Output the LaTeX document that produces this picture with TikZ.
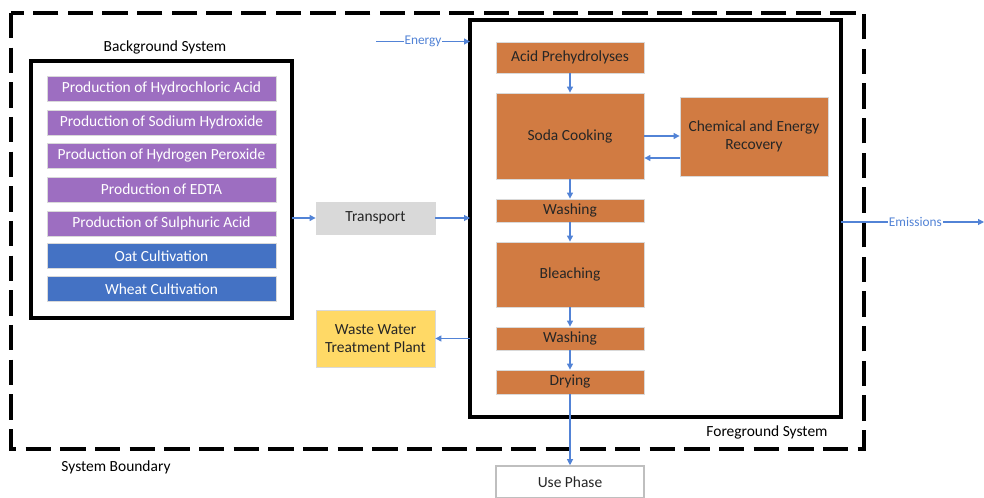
\documentclass[tikz,border=0pt]{standalone}
\usepackage{fontspec}
\setmainfont{Carlito}
\usetikzlibrary{arrows.meta,positioning}

\definecolor{chempurple}{RGB}{157,110,193}
\definecolor{cropblue}{RGB}{68,114,196}
\definecolor{procorange}{RGB}{209,123,66}
\definecolor{wwtpyellow}{RGB}{255,217,102}
\definecolor{transgray}{RGB}{217,217,217}
\definecolor{flowblue}{RGB}{82,131,214}

\begin{document}
\begin{tikzpicture}[x=0.75pt,y=-0.75pt,font=\fontsize{11.6}{13.6}\selectfont,
  proc/.style={draw=white!85!black,line width=0.6pt,minimum width=148*0.75pt,inner sep=1pt,align=center},
  chem/.style={proc,fill=chempurple,text=white,minimum width=229*0.75pt,minimum height=25*0.75pt},
  crop/.style={proc,fill=cropblue,text=white,minimum width=229*0.75pt,minimum height=25*0.75pt},
  stepbox/.style={proc,fill=procorange,text=black!85},
  flow/.style={draw=flowblue,line width=0.8pt,-{Triangle[length=4.5pt,width=4.5pt]}},
  flowlabel/.style={text=flowblue,font=\fontsize{10}{12}\selectfont,fill=white,inner sep=0.5pt},
  sysbox/.style={draw=black,line width=3pt}]

\useasboundingbox (0,0) rectangle (984,498);

% ========================
% SYSTEM BOUNDARY
% ========================

\draw[line width=2.3pt,dash pattern=on 19pt off 7pt] (11,13) rectangle (864,449);
\node (sysbnd) at (116,467) {System Boundary};

% ========================
% BACKGROUND SYSTEM
% ========================

\draw[sysbox] (31,61) rectangle (292,318);
\node (bglabel) at (165,47) {Background System};
\coordinate (bgout) at (292,218);

\node[chem] (hcl)   at (161.5,88.5)  {Production of Hydrochloric Acid};
\node[chem] (naoh)  at (161.5,122.5) {Production of Sodium Hydroxide};
\node[chem] (h2o2)  at (161.5,155.5) {Production of Hydrogen Peroxide};
\node[chem] (edta)  at (161.5,189.5) {Production of EDTA};
\node[chem] (h2so4) at (161.5,223.5) {Production of Sulphuric Acid};
\node[crop] (oat)   at (161.5,256)   {Oat Cultivation};
\node[crop] (wheat) at (161.5,289)   {Wheat Cultivation};

% ========================
% MIDDLE COLUMN
% ========================

\node[proc,fill=transgray,text=black!85,minimum width=119*0.75pt,minimum height=32*0.75pt] (transport) at (375.5,218) {Transport};
\node[proc,fill=wwtpyellow,text=black!85,minimum width=119*0.75pt,minimum height=57*0.75pt] (wwtp) at (375.5,338.5) {Waste Water\\Treatment Plant};

% ========================
% FOREGROUND SYSTEM
% ========================

\draw[sysbox] (470,20) rectangle (841,417);
\node (fglabel) at (767,432) {Foreground System};
\coordinate (fgin)   at (470,218);
\coordinate (fgwash) at (470,338.5);
\coordinate (fgen)   at (470,41.5);
\coordinate (fgem)   at (841,222);

\node[stepbox,minimum height=31*0.75pt] (acid)   at (570,57.5)  {Acid Prehydrolyses};
\node[stepbox,minimum height=86*0.75pt] (soda)   at (570,136)   {Soda Cooking};
\node[stepbox,minimum height=79*0.75pt] (recov)  at (754,136.5) {Chemical and Energy\\Recovery};
\node[stepbox,minimum height=23*0.75pt] (wash1)  at (570,210.5) {Washing};
\node[stepbox,minimum height=65*0.75pt] (bleach) at (570,274.5) {Bleaching};
\node[stepbox,minimum height=23*0.75pt] (wash2)  at (570,338.5) {Washing};
\node[stepbox,minimum height=24*0.75pt] (drying) at (570,382)   {Drying};

\node[proc,draw=black!25,line width=1.2pt,fill=white,text=black!85,minimum height=32*0.75pt] (use) at (570,482) {Use Phase};

% ========================
% FLOWS
% ========================

\draw[flow] (bgout) -- (transport.west);
\draw[flow] (transport.east) -- (fgin);
\draw[flow] (fgwash) -- (wwtp.east);

\coordinate (enstart) at (376,41.5);
\draw[flow] (enstart) -- node[flowlabel] (energy) {Energy} (fgen);

\coordinate (emend) at (984,222);
\draw[flow] (fgem) -- node[flowlabel,pos=0.52] (emis) {Emissions} (emend);

\draw[flow] (acid) -- (soda);
\draw[flow] (soda.east |- 0,136) -- (recov.west |- 0,136);
\draw[flow] (recov.west |- 0,158) -- (soda.east |- 0,158);
\draw[flow] (soda) -- (wash1);
\draw[flow] (wash1) -- (bleach);
\draw[flow] (bleach) -- (wash2);
\draw[flow] (wash2) -- (drying);
\draw[flow] (drying) -- (use);

\end{tikzpicture}
\end{document}
